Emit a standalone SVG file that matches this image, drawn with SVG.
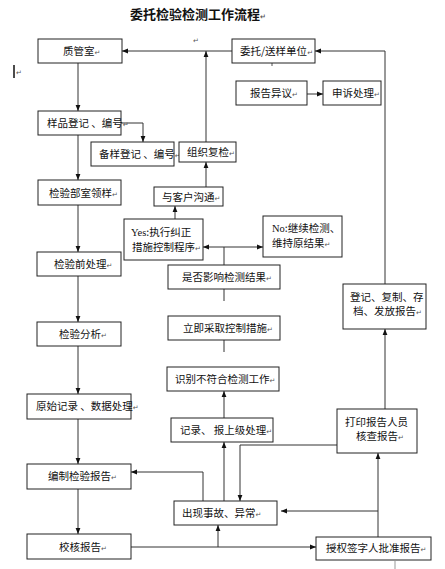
<svg xmlns="http://www.w3.org/2000/svg" width="445" height="569" viewBox="0 0 445 569">
<defs>
<style>
.b{fill:#fff;stroke:#222;stroke-width:1}
.t{font-family:"Noto Sans CJK SC","Noto Sans",sans-serif;font-size:10.5px;fill:#111}
.title{font-family:"Noto Sans CJK SC",sans-serif;font-size:13px;font-weight:bold;fill:#111}
.pm{font-family:"DejaVu Sans",sans-serif;font-size:7px;fill:#555}
.s{font-family:"Liberation Serif",serif}
.c{fill:none;stroke:#333;stroke-width:1}
</style>
<marker id="a" viewBox="0 0 8 8" refX="8" refY="4" markerWidth="6" markerHeight="6" orient="auto" markerUnits="userSpaceOnUse"><path d="M0,0.8 L8,4 L0,7.2 z" fill="#111"/></marker>
</defs>
<rect width="445" height="569" fill="#fff"/>
<text class="title" x="130" y="19">委托检验检测工作流程<tspan class="pm">↵</tspan></text>
<text class="pm" x="193" y="43">↵</text>
<line x1="14" y1="65" x2="14" y2="78" stroke="#111" stroke-width="1.5"/>
<text class="pm" x="16" y="75">↵</text>
<line x1="272" y1="63" x2="272" y2="66" stroke="#555"/>
<line x1="395" y1="561" x2="395" y2="569" stroke="#999"/>

<g id="connectors">
<path class="c" d="M232,51 H122" marker-end="url(#a)"/>
<path class="c" d="M206,142 V51" marker-end="url(#a)"/>
<path class="c" d="M385,284 V51 H315" marker-end="url(#a)"/>
<path class="c" d="M78,63 V111" marker-end="url(#a)"/>
<path class="c" d="M307,94 H323" marker-end="url(#a)"/>
<path class="c" d="M121,123 H143 V142" marker-end="url(#a)"/>
<path class="c" d="M78,135 V180" marker-end="url(#a)"/>
<path class="c" d="M206,187 V162" marker-end="url(#a)"/>
<path class="c" d="M175,219 V206" marker-end="url(#a)"/>
<path class="c" d="M224,247 H203" marker-end="url(#a)"/>
<path class="c" d="M224,247 H263" marker-end="url(#a)"/>
<path class="c" d="M224,265 V247"/>
<path class="c" d="M224,289 V301"/>
<path class="c" d="M224,340 V352"/>
<path class="c" d="M78,205 V252" marker-end="url(#a)"/>
<path class="c" d="M78,276 V322" marker-end="url(#a)"/>
<path class="c" d="M78,346 V394" marker-end="url(#a)"/>
<path class="c" d="M78,419 V464" marker-end="url(#a)"/>
<path class="c" d="M78,489 V534" marker-end="url(#a)"/>
<path class="c" d="M224,418 V391" marker-end="url(#a)"/>
<path class="c" d="M224,501 V442" marker-end="url(#a)"/>
<path class="c" d="M385,409 V329" marker-end="url(#a)"/>
<path class="c" d="M337,445 H240 V501" marker-end="url(#a)"/>
<path class="c" d="M203,501 V472 H131" marker-end="url(#a)"/>
<path class="c" d="M378,537 V453" marker-end="url(#a)"/>
<path class="c" d="M378,511 H281" marker-end="url(#a)"/>
<path class="c" d="M131,547 H316" marker-end="url(#a)"/>
<path class="c" d="M218,547 V525" marker-end="url(#a)"/>
</g>

<g id="zhiguanshi"><rect class="b" x="38" y="39" width="84" height="24"/><text class="t" x="63" y="55">质管室<tspan class="pm">↵</tspan></text></g>
<g id="weituo"><rect class="b" x="232" y="39" width="83" height="24"/><text class="t" x="240" y="55">委托/送样单位<tspan class="pm">↵</tspan></text></g>
<g id="baogaoyiyi"><rect class="b" x="236" y="81" width="71" height="24"/><text class="t" x="250" y="97">报告异议<tspan class="pm">↵</tspan></text></g>
<g id="shensu"><rect class="b" x="323" y="81" width="58" height="24"/><text class="t" x="332" y="97">申诉处理<tspan class="pm">↵</tspan></text></g>
<g id="yangpin"><rect class="b" x="38" y="111" width="83" height="24"/><text class="t" x="47" y="127">样品登记 、编号<tspan class="pm">↵</tspan></text></g>
<g id="beiyang"><rect class="b" x="91" y="142" width="83" height="24"/><text class="t" x="99" y="158">备样登记 、编号<tspan class="pm">↵</tspan></text></g>
<g id="zuzhifujian"><rect class="b" x="179" y="142" width="57" height="20"/><text class="t" x="187" y="156">组织复检<tspan class="pm">↵</tspan></text></g>
<g id="lingyang"><rect class="b" x="38" y="180" width="83" height="25"/><text class="t" x="49" y="197">检验部室领样<tspan class="pm">↵</tspan></text></g>
<g id="goutong"><rect class="b" x="154" y="187" width="69" height="19"/><text class="t" x="162" y="201">与客户沟通<tspan class="pm">↵</tspan></text></g>
<g id="yes"><rect class="b" x="124" y="219" width="79" height="41"/><text class="t" x="131" y="236"><tspan class="s">Yes</tspan>:执行纠正</text><text class="t" x="132" y="251">措施控制程序<tspan class="pm">↵</tspan></text></g>
<g id="no"><rect class="b" x="263" y="216" width="79" height="41"/><text class="t" x="272" y="232"><tspan class="s">No</tspan>:继续检测、</text><text class="t" x="272" y="247">维持原结果<tspan class="pm">↵</tspan></text></g>
<g id="qianchuli"><rect class="b" x="37" y="252" width="84" height="24"/><text class="t" x="54" y="268">检验前处理<tspan class="pm">↵</tspan></text></g>
<g id="shifou"><rect class="b" x="168" y="265" width="112" height="24"/><text class="t" x="182" y="281">是否影响检测结果<tspan class="pm">↵</tspan></text></g>
<g id="dengji"><rect class="b" x="343" y="284" width="83" height="45"/><text class="t" x="350" y="301">登记、复制、存</text><text class="t" x="353" y="315">档、发放报告<tspan class="pm">↵</tspan></text></g>
<g id="fenxi"><rect class="b" x="37" y="322" width="84" height="24"/><text class="t" x="59" y="338">检验分析<tspan class="pm">↵</tspan></text></g>
<g id="liji"><rect class="b" x="168" y="316" width="112" height="24"/><text class="t" x="183" y="332">立即采取控制措施<tspan class="pm">↵</tspan></text></g>
<g id="shibie"><rect class="b" x="167" y="367" width="112" height="24"/><text class="t" x="175" y="383">识别不符合检测工作<tspan class="pm">↵</tspan></text></g>
<g id="yuanshi"><rect class="b" x="27" y="394" width="104" height="25"/><text class="t" x="36" y="410">原始记录 、数据处理<tspan class="pm">↵</tspan></text></g>
<g id="jilu"><rect class="b" x="171" y="418" width="102" height="24"/><text class="t" x="180" y="434">记录、 报上级处理<tspan class="pm">↵</tspan></text></g>
<g id="dayin"><rect class="b" x="337" y="409" width="80" height="44"/><text class="t" x="345" y="426">打印报告人员</text><text class="t" x="356" y="440">核查报告<tspan class="pm">↵</tspan></text></g>
<g id="bianzhi"><rect class="b" x="27" y="464" width="104" height="25"/><text class="t" x="48" y="480">编制检验报告<tspan class="pm">↵</tspan></text></g>
<g id="shigu"><rect class="b" x="174" y="501" width="103" height="24"/><text class="t" x="182" y="517">出现事故、异常<tspan class="pm">↵</tspan></text></g>
<g id="jiaohe"><rect class="b" x="27" y="534" width="104" height="25"/><text class="t" x="59" y="551">校核报告<tspan class="pm">↵</tspan></text></g>
<g id="shouquan"><rect class="b" x="316" y="537" width="115" height="23"/><text class="t" x="326" y="552">授权签字人批准报告<tspan class="pm">↵</tspan></text></g>
</svg>
